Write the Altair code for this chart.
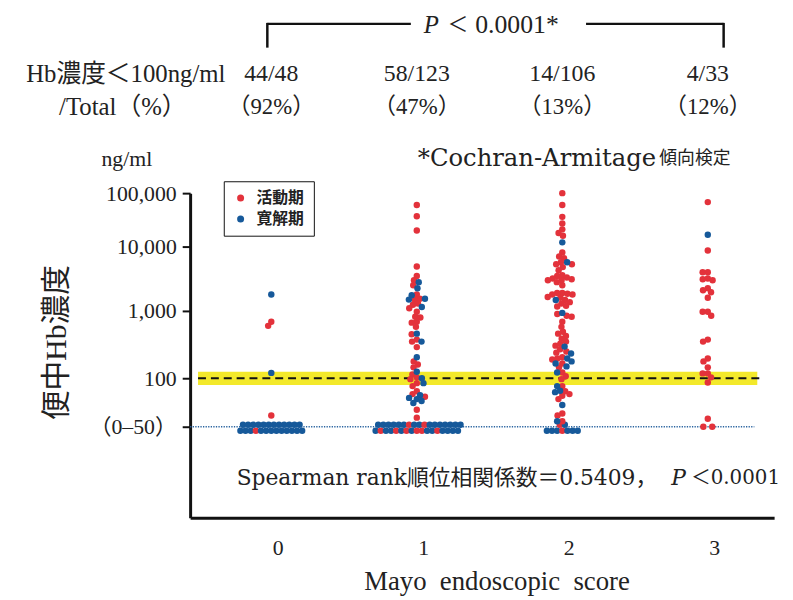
import altair as alt
import pandas as pd
import numpy as np

# ---------------- data ----------------
ACTIVE = "活動期"
REMISSION = "寛解期"

groups = [0, 1, 2, 3]
group_labels = ["0", "1", "2", "3"]
count_low = ["44/48", "58/123", "14/106", "4/33"]
pct_low = ["（92%）", "（47%）", "（13%）", "（12%）"]

# Hb (ng/ml) of the points drawn above the (0-50) row, per Mayo score
active_vals = [
    [690, 600, 29],
    [60000, 37000, 20000, 4900, 3500, 3000, 2500, 1800, 1550, 1500, 1300, 1250,
     1100, 970, 820, 800, 690, 670, 580, 450, 375, 350, 290, 178, 160, 145, 114,
     103, 97, 85, 77, 65, 59, 54, 35, 27],
    [100000, 60000, 36000, 27000, 21000, 18000, 16000, 8100, 7000, 6600, 5700,
     5300, 5300, 4800, 4300, 3600, 3500, 3300, 3200, 3100, 3000, 3000, 2800, 2500,
     1900, 1900, 1850, 1800, 1800, 1650, 1600, 1480, 1370, 1300, 1200, 1170, 900,
     850, 820, 690, 580, 490, 460, 425, 385, 350, 325, 305, 270, 250, 240, 205,
     196, 190, 166, 145, 122, 107, 97, 77, 65, 59, 56, 50, 31, 29, 24],
    [68000, 8700, 4000, 4000, 3200, 3100, 3000, 2250, 2100, 1950, 1600, 970, 970,
     850, 375, 350, 196, 178, 145, 118, 118, 103, 87, 26],
]
remission_vals = [
    [1800, 120],
    [2800, 2250, 1750, 1550, 1500, 1150, 460, 350, 205, 125, 100, 85, 57, 52, 50, 47, 44],
    [12000, 5700, 1480, 935, 295, 233, 196, 178, 166, 150, 122, 77, 66, 63, 41, 24],
    [16700],
]
# points in the (0-50) row, left to right: a = 活動期, r = 寛解期
bottom_lower = ["rrrarrrrrrrrr", "rarrararaarrarrrr", "rrrarrr", "aa"]
bottom_upper = ["rrrrrrrrrrrr", "rrrrrrarrarrrrrrr", "ar", ""]

y_tick_values = [5, 4, 3, 2, 1.3]
y_tick_labels = ["100,000", "10,000", "1,000", "100", "（0–50）"]
LOW_LEVEL = 1.3          # log position used for the (0-50) row
band_lo, band_hi = 80, 125
cut_value = 100

# ---------------- styling / scales ----------------
RED = "#e3323b"
BLUE = "#16599a"
YELLOW = "#f3e92b"
INK = "#222222"
SERIF = "Liberation Serif, Noto Sans CJK JP"
CENTURY = "DejaVu Serif, Noto Sans CJK JP"
CJK = "Noto Sans CJK JP"

W, H = 590, 329
UNIT = 147.0                       # px per Mayo category
X0 = 82.0                          # px of category 0
y_dom = [0.0, LOW_LEVEL, 2, 3, 4, 5]
y_rng = [329, 237, 188, 120, 55, 1]

def lv_to_px(lv):
    return np.interp(lv, y_dom, y_rng)

def px_to_lv(p):
    return float(np.interp(p, y_rng[::-1], y_dom[::-1]))

def swarm_offsets(py, d):
    order = np.argsort(py, kind="stable")
    xs = np.zeros(len(py))
    placed = []
    for i in order:
        y = py[i]
        intervals, cands = [], [0.0]
        for (qx, qy) in placed:
            dy = abs(qy - y)
            if dy < d:
                w = np.sqrt(d * d - dy * dy)
                intervals.append((qx - w, qx + w))
                cands += [qx - w, qx + w]
        cands.sort(key=lambda c: (abs(c), c))
        for c in cands:
            if all(not (a + 1e-6 < c < b - 1e-6) for a, b in intervals):
                xs[i] = c
                break
        placed.append((xs[i], y))
    return xs

STEP = 5.2
D = 5.2
rows = []
for g in groups:
    lo, up = bottom_lower[g], bottom_upper[g]
    if up == "":
        n = len(lo)
        for k, code in enumerate(lo):
            off = (k - (n - 1) / 2) * 9
            rows.append(dict(g=g, state=ACTIVE if code == "a" else REMISSION,
                             lv=LOW_LEVEL, x=g + off / UNIT))
    else:
        for row_str, row_px, shift in [(lo, 241, 0.0), (up, 235, STEP / 2 if len(up) == len(lo) else 0.0)]:
            n = len(row_str)
            for k, code in enumerate(row_str):
                off = (k - (n - 1) / 2) * STEP + shift
                rows.append(dict(g=g, state=ACTIVE if code == "a" else REMISSION,
                                 lv=px_to_lv(row_px), x=g + off / UNIT))
    vals = list(active_vals[g]) + list(remission_vals[g])
    states = [ACTIVE] * len(active_vals[g]) + [REMISSION] * len(remission_vals[g])
    lv = np.log10(np.array(vals, dtype=float))
    offs = swarm_offsets(lv_to_px(lv), D)
    for s, l, o in zip(states, lv, offs):
        rows.append(dict(g=g, state=s, lv=float(l), x=g + o / UNIT))
df = pd.DataFrame(rows)

xs = alt.Scale(domain=[-X0 / UNIT, (W - X0) / UNIT], nice=False, zero=False)
ys = alt.Scale(domain=y_dom, range=y_rng, nice=False, zero=False)

label_expr = "".join(f"datum.value == {v} ? '{t}' : " for v, t in zip(y_tick_values, y_tick_labels)) + "''"
xaxis = alt.Axis(values=groups, ticks=False, labels=False, domainColor="#111111",
                 domainWidth=3, grid=False, title=None)
yaxis = alt.Axis(values=y_tick_values, labelExpr=label_expr, tickSize=8, tickWidth=2,
                 tickColor="#111111", labelPadding=6, labelFontSize=22, labelFont=SERIF,
                 labelColor=INK, domainColor="#111111", domainWidth=3, grid=False,
                 title=None, labelOverlap=False, labelFlush=False)

X = lambda f: alt.X(f, scale=xs, axis=xaxis)
Y = lambda f: alt.Y(f, scale=ys, axis=yaxis)

band = alt.Chart(pd.DataFrame({"lo": [np.log10(band_lo)], "hi": [np.log10(band_hi)]})).mark_rect(
    color=YELLOW).encode(y=Y("hi:Q"), y2="lo:Q", x=alt.value(8), x2=alt.value(573))
dashed = alt.Chart(pd.DataFrame({"v": [np.log10(cut_value)]})).mark_rule(
    color="#111111", strokeWidth=1.8, strokeDash=[8, 5]).encode(
    y=Y("v:Q"), x=alt.value(8), x2=alt.value(580))
dotted = alt.Chart(pd.DataFrame({"v": [LOW_LEVEL]})).mark_rule(
    color="#2a64a0", strokeWidth=1.6, strokeDash=[1.3, 1.3]).encode(
    y=Y("v:Q"), x=alt.value(0), x2=alt.value(570))

points = alt.Chart(df).mark_circle(size=42, opacity=1).encode(
    x=X("x:Q"), y=Y("lv:Q"),
    color=alt.Color("state:N", scale=alt.Scale(domain=[ACTIVE, REMISSION], range=[RED, BLUE]),
                    legend=alt.Legend(orient="none", legendX=34, legendY=-11, title=None,
                                      strokeColor="#111111", fillColor="white", padding=9,
                                      labelFont=CJK, labelFontSize=16, labelFontWeight="bold",
                                      labelColor=INK, symbolType="circle", symbolSize=50,
                                      symbolStrokeWidth=0, rowPadding=5, labelOffset=8)))

def txt(text, x, y, size, font=SERIF, align="left", style="normal", weight="normal", angle=0):
    return alt.Chart(pd.DataFrame({"t": [text]})).mark_text(
        align=align, baseline="middle", fontSize=size, font=font, fontStyle=style,
        fontWeight=weight, angle=angle, color=INK).encode(
        text="t:N", x=alt.value(x), y=alt.value(y))

def seg(x1, y1, x2=None, y2=None):
    enc = dict(x=alt.value(x1), y=alt.value(y1))
    if x2 is not None:
        enc["x2"] = alt.value(x2)
    if y2 is not None:
        enc["y2"] = alt.value(y2)
    return alt.Chart(pd.DataFrame({"k": [0]})).mark_rule(color="#111111", strokeWidth=2.5).encode(**enc)

counts_df = pd.DataFrame({"g": groups, "n": count_low, "p": pct_low, "lab": group_labels})
row1 = alt.Chart(counts_df).mark_text(fontSize=24, font=SERIF, color=INK, baseline="middle").encode(
    x=X("g:Q"), y=alt.value(-119), text="n:N")
row2 = alt.Chart(counts_df).mark_text(fontSize=23, font=SERIF, color=INK, baseline="middle").encode(
    x=X("g:Q"), y=alt.value(-86), text="p:N")
xlabels = alt.Chart(counts_df).mark_text(fontSize=22, font=SERIF, color=INK, baseline="middle",
                                         dx=7).encode(
    x=X("g:Q"), y=alt.value(360), text="lab:N")

layers = [
    band, dashed, dotted, points, row1, row2, xlabels,
    seg(78, -170, x2=223), seg(400, -170, x2=539),
    seg(78, -171, y2=-146), seg(539, -171, y2=-146),
    txt("P", 236, -169, 25, style="italic"),
    txt("＜", 260, -168, 21),
    txt("0.0001*", 288, -169, 26),
    txt("Hb濃度＜100ng/ml", -65, -119, 25, align="center"),
    txt("/Total（%）", -68, -86, 25, align="center"),
    txt("ng/ml", -64, -33, 22, align="center"),
    txt("*Cochran-Armitage", 230, -33, 24.5, font=CENTURY),
    txt("傾向検定", 474, -33, 18, font=CJK),
    txt("便中Hb濃度", -134, 152, 30, align="center", angle=270),
    txt("Spearman rank", 47, 289, 22, font=CENTURY),
    txt("順位相関係数＝0.5409，", 219, 289, 22, font=CENTURY),
    txt("P", 486, 289, 22, font=CENTURY, style="italic"),
    txt("＜0.0001", 506, 289, 20, font=CENTURY),
    txt("Mayo\u2002endoscopic\u2002score", 310, 394, 27, align="center"),
]

chart = alt.layer(*layers).properties(
    width=W, height=H,
    padding={"left": 184, "top": 183, "right": 11, "bottom": 80},
    autosize=alt.AutoSizeParams(type="none"),
).configure_view(stroke=None)

chart.save("out.html", embed_options={"renderer": "svg", "actions": False})
